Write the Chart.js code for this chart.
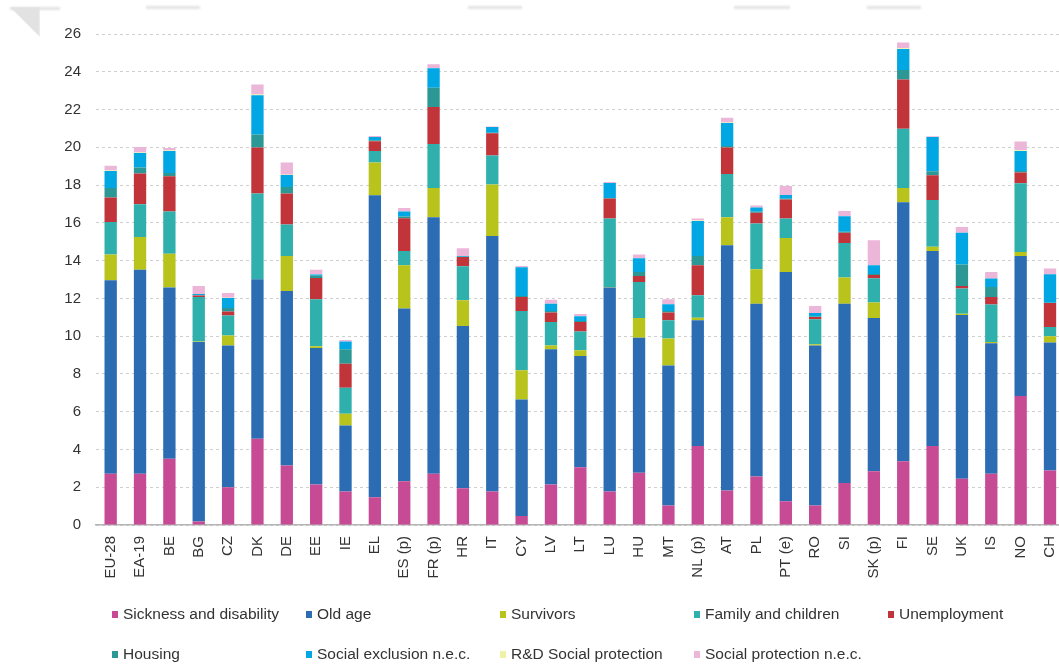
<!DOCTYPE html>
<html>
<head>
<meta charset="utf-8">
<script src="https://cdn.jsdelivr.net/npm/chart.js@4.4.1/dist/chart.umd.min.js"></script>
<style>
  html, body { margin: 0; padding: 0; background: #fff; overflow: hidden; }
  #wrap { position: relative; width: 1059px; height: 668px; overflow: hidden; }
  #chart { position: absolute; left: 0; top: 0; }
  .tab { position: absolute; background: #e2e2e2; filter: blur(1.2px); }
  #legend { position: absolute; left: 0; top: 0; width: 1059px; height: 668px; pointer-events: none;
            font-family: "Liberation Sans", Arial, sans-serif; font-size: 15.5px; color: #333; }
  .item { position: absolute; white-space: nowrap; line-height: 18px; height: 18px; }
  .item i { position: absolute; left: 0; top: 6px; width: 6px; height: 7px; }
  .item span { position: absolute; left: 11px; top: 0; }
</style>
</head>
<body>
<div id="wrap">
  <div class="tab" style="left:10px;top:7px;width:50px;height:3px;"></div>
  <div class="tab" style="left:10px;top:7px;width:30px;height:30px;clip-path:polygon(0 0,100% 0,100% 100%);"></div>
  <div class="tab" style="left:146px;top:6px;width:54px;height:3px;"></div>
  <div class="tab" style="left:468px;top:6px;width:54px;height:3px;"></div>
  <div class="tab" style="left:734px;top:6px;width:56px;height:3px;"></div>
  <div class="tab" style="left:867px;top:6px;width:54px;height:3px;"></div>
  <canvas id="chart" width="1079" height="668"></canvas>
  <div id="legend"></div>
</div>
<script>
// Social protection expenditure by function, % of GDP
const countries = ['EU-28','EA-19','BE','BG','CZ','DK','DE','EE','IE','EL','ES (p)','FR (p)','HR','IT','CY','LV','LT','LU','HU','MT','NL (p)','AT','PL','PT (e)','RO','SI','SK (p)','FI','SE','UK','IS','NO','CH'];

const sickness        = [2.71,2.71,3.51,0.19,2.00,4.57,3.15,2.15,1.78,1.47,2.32,2.71,1.95,1.78,0.47,2.15,3.06,1.78,2.77,1.03,4.18,1.83,2.57,1.26,1.03,2.22,2.84,3.38,4.18,2.45,2.71,6.83,2.89];
const oldAge          = [10.25,10.81,9.06,9.50,7.50,8.44,9.24,7.22,3.49,15.99,9.14,13.59,8.59,13.52,6.18,7.15,5.89,10.79,7.15,7.42,6.66,12.98,9.15,12.14,8.48,9.50,8.12,13.71,10.33,8.67,6.92,7.42,6.78];
const survivors       = [1.36,1.73,1.80,0.03,0.54,0.00,1.86,0.09,0.62,1.73,2.29,1.55,1.36,2.73,1.54,0.20,0.30,0.03,1.04,1.42,0.14,1.49,1.82,1.80,0.06,1.38,0.82,0.76,0.23,0.07,0.06,0.21,0.32];
const family          = [1.73,1.73,2.23,2.35,1.06,4.54,1.66,2.49,1.38,0.62,0.76,2.33,1.80,1.54,3.14,1.25,0.99,3.63,1.91,0.97,1.18,2.29,2.42,1.03,1.32,1.83,1.28,3.13,2.47,1.33,1.98,3.64,0.49];
const unemployment    = [1.29,1.63,1.87,0.08,0.21,2.44,1.64,1.13,1.27,0.51,1.73,1.96,0.49,1.18,0.74,0.50,0.51,1.06,0.32,0.41,1.59,1.40,0.58,1.00,0.12,0.55,0.18,2.61,1.31,0.14,0.40,0.56,1.27];
const housing         = [0.51,0.32,0.17,0.02,0.18,0.69,0.35,0.12,0.76,0.05,0.10,1.01,0.02,0.02,0.05,0.08,0.05,0.03,0.21,0.08,0.50,0.08,0.05,0.05,0.03,0.05,0.05,0.50,0.21,1.14,0.53,0.09,0.02];
const socialExclusion = [0.90,0.77,1.17,0.06,0.53,2.08,0.64,0.07,0.42,0.18,0.26,1.04,0.03,0.30,1.53,0.39,0.25,0.79,0.72,0.36,1.85,1.22,0.22,0.20,0.18,0.82,0.46,1.11,1.81,1.68,0.45,1.06,1.51];
const rdSocial        = [0.02,0.02,0.02,0.00,0.01,0.03,0.01,0.00,0.00,0.00,0.00,0.00,0.00,0.00,0.00,0.00,0.00,0.00,0.00,0.00,0.03,0.03,0.00,0.00,0.00,0.00,0.00,0.05,0.01,0.00,0.00,0.03,0.00];
const protectionNec   = [0.26,0.30,0.13,0.42,0.26,0.54,0.65,0.25,0.07,0.05,0.19,0.21,0.42,0.03,0.07,0.21,0.12,0.05,0.20,0.26,0.10,0.24,0.11,0.47,0.38,0.28,1.33,0.30,0.03,0.30,0.35,0.47,0.30];

const yTicks = [0,2,4,6,8,10,12,14,16,18,20,22,24,26];

const series = [
  { label: 'Sickness and disability', data: sickness,        color: '#c64b94' },
  { label: 'Old age',                 data: oldAge,          color: '#2b6cb3' },
  { label: 'Survivors',               data: survivors,       color: '#b8c31c' },
  { label: 'Family and children',     data: family,          color: '#30b0ad' },
  { label: 'Unemployment',            data: unemployment,    color: '#c1343a' },
  { label: 'Housing',                 data: housing,         color: '#2b9896' },
  { label: 'Social exclusion n.e.c.', data: socialExclusion, color: '#00a7e2' },
  { label: 'R&D Social protection',   data: rdSocial,        color: '#eef2a6' },
  { label: 'Social protection n.e.c.',data: protectionNec,   color: '#ebb6d7' }
];

const FONT = '"Liberation Sans", Arial, sans-serif';

const chart = new Chart(document.getElementById('chart'), {
  type: 'bar',
  data: {
    labels: countries,
    datasets: series.map(s => ({
      label: s.label,
      data: s.data,
      backgroundColor: s.color,
      borderWidth: 0,
      stack: 'total',
      categoryPercentage: 1,
      barPercentage: 0.42
    }))
  },
  options: {
    responsive: false,
    animation: false,
    layout: { padding: { left: 0, right: 0, top: 34, bottom: 83 } },
    plugins: { legend: { display: false }, tooltip: { enabled: false } },
    scales: {
      x: {
        stacked: true,
        grid: { display: false, drawTicks: false },
        border: { display: true, color: '#b5b5b5', width: 1.5 },
        ticks: {
          autoSkip: false, minRotation: 90, maxRotation: 90, padding: 11,
          color: '#333', font: { family: FONT, size: 15 }
        },
        afterFit: s => { s.height = 60; }
      },
      y: {
        stacked: true,
        min: yTicks[0], max: yTicks[yTicks.length - 1],
        afterBuildTicks: s => { s.ticks = yTicks.map(v => ({ value: v })); },
        grid: { color: '#cfcfcf', lineWidth: 1, drawTicks: false },
        border: { display: false, dash: [3, 3] },
        ticks: { padding: 15, color: '#333', font: { family: FONT, size: 15 } },
        afterFit: s => { s.width = 96; }
      }
    }
  }
});

// Legend: two rows, five columns, built from the chart's datasets
const legend = document.getElementById('legend');
chart.data.datasets.forEach((ds, i) => {
  const col = i % 5, row = Math.floor(i / 5);
  const el = document.createElement('div');
  el.className = 'item';
  el.style.left = (112 + col * 194) + 'px';
  el.style.top = (605 + row * 40) + 'px';
  const sw = document.createElement('i');
  sw.style.background = ds.backgroundColor;
  const tx = document.createElement('span');
  tx.textContent = ds.label;
  el.appendChild(sw); el.appendChild(tx);
  legend.appendChild(el);
});
</script>
</body>
</html>
